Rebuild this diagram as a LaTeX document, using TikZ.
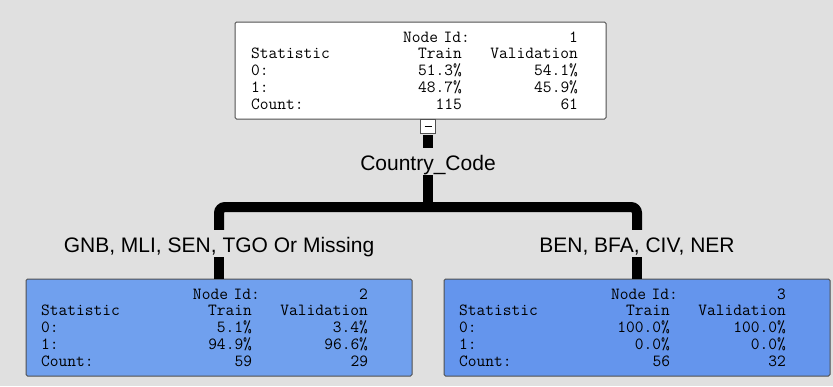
\documentclass[tikz,border=0pt]{standalone}
\usepackage{fontspec}
\usepackage{tikz}
\newfontfamily\labelfont{Liberation Sans}
\definecolor{panelgray}{RGB}{224,224,224}
\definecolor{leafblue}{RGB}{112,160,238}
\definecolor{pureblue}{RGB}{100,149,237}
\definecolor{boxedge}{RGB}{80,80,80}
\pgfmathsetmacro{\boxheight}{97}
\pgfmathsetmacro{\branchwidth}{10}
\newcommand{\statrow}[3]{\makebox[150pt][l]{#1}\makebox[61pt][r]{#2}\makebox[116pt][r]{#3}}
\newcommand{\idrow}[1]{\hspace*{152pt}\makebox[175pt][l]{Node Id:\hfill #1}}

\begin{document}
\begin{tikzpicture}[x=1pt, y=-1pt,
  statbox/.style={draw=boxedge, line width=1pt, rounded corners=1.5pt, align=left,
    minimum height=\boxheight pt, inner ysep=0pt,
    font=\ttfamily\fontsize{17}{16.7}\selectfont},
  splitlabel/.style={font=\labelfont\fontsize{21}{24}\selectfont, anchor=base,
    text height=18pt, text depth=0pt, inner ysep=4.5pt, inner xsep=0pt},
  branch/.style={line width=\branchwidth pt}]
    % background panel
    \fill[panelgray] (0,0) rectangle (833,386);
    \useasboundingbox (0,0) rectangle (833,386);
    % root node
    \node[statbox, fill=white, text width=339pt, inner xsep=16pt] (root) at (420.5,70.5)
        {\idrow{1}\\
         \statrow{Statistic}{Train}{Validation}\\
         \statrow{0:}{51.3\%}{54.1\%}\\
         \statrow{1:}{48.7\%}{45.9\%}\\
         \statrow{Count:}{115}{61}};
    \node[draw=boxedge, fill=white, minimum width=15pt, minimum height=14pt, inner sep=0pt] (toggle) at (428,126) {};
    % split and branch labels
    \node[splitlabel] (split) at (428,170.5) {Country\_Code};
    \coordinate (fork) at (428,207);
    \node[splitlabel] (glab) at (219,252.5) {GNB, MLI, SEN, TGO Or Missing};
    \node[splitlabel] (blab) at (637,252.5) {BEN, BFA, CIV, NER};
    % leaves
    \node[statbox, fill=leafblue, text width=356pt, inner xsep=15pt] (gleaf) at (219,327.5)
        {\idrow{2}\\
         \statrow{Statistic}{Train}{Validation}\\
         \statrow{0:}{5.1\%}{3.4\%}\\
         \statrow{1:}{94.9\%}{96.6\%}\\
         \statrow{Count:}{59}{29}};
    \node[statbox, fill=pureblue, text width=356pt, inner xsep=15pt] (bleaf) at (637,327.5)
        {\idrow{3}\\
         \statrow{Statistic}{Train}{Validation}\\
         \statrow{0:}{100.0\%}{100.0\%}\\
         \statrow{1:}{0.0\%}{0.0\%}\\
         \statrow{Count:}{56}{32}};
    % draw tree
    \draw[line width=1pt] ([xshift=-3.5pt]toggle.center) -- ([xshift=3.5pt]toggle.center);
    \draw[branch, shorten <=2pt] (toggle.south) -- (split.north);
    \draw[branch] (split.south) -- (fork);
    \draw[branch, rounded corners=6pt] (glab.north) |- (fork) -| (blab.north);
    \draw[branch] (glab.south) -- (gleaf.north);
    \draw[branch] (blab.south) -- (bleaf.north);
\end{tikzpicture}
\end{document}
